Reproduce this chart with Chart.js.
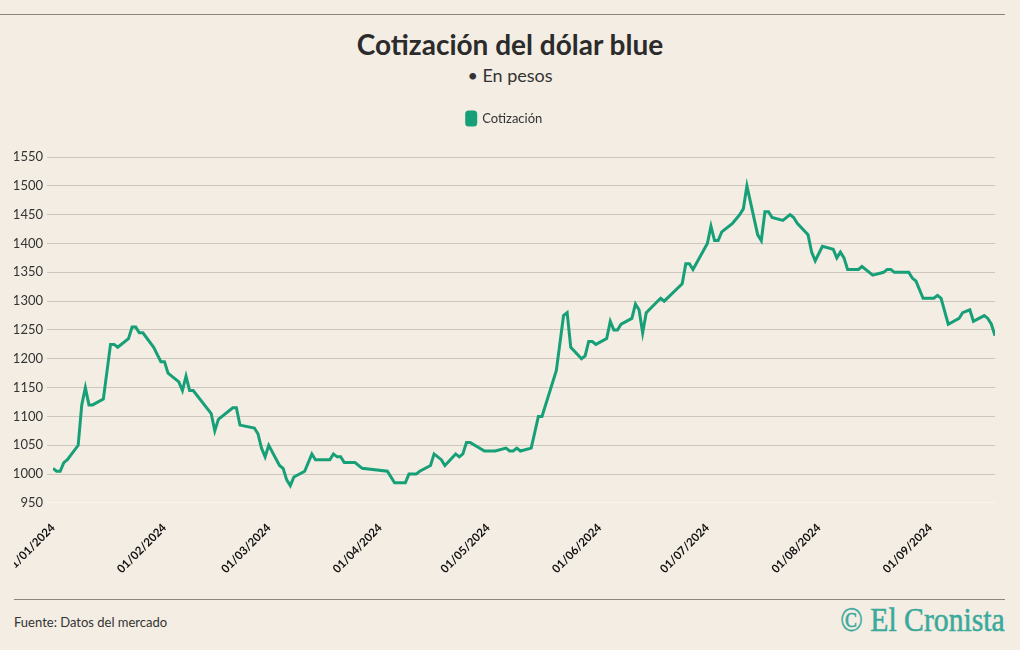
<!DOCTYPE html>
<html><head><meta charset="utf-8">
<script src="https://cdn.jsdelivr.net/npm/chart.js@4"></script>
<style>
html,body{margin:0;padding:0;background:#f3ede3;width:1020px;height:650px;overflow:hidden;font-family:Lato,"Noto Sans",sans-serif;}
#topline{position:absolute;left:0;top:14px;width:1005px;height:1px;background:#8c857e;}
#title{position:absolute;left:0;width:1020px;top:26px;text-align:center;font-weight:700;font-size:28px;color:#2b2b2b;line-height:36px;}
#sub{position:absolute;left:0;width:1020px;top:63px;text-align:center;font-size:18px;color:#333;line-height:24px;}
#wrap{position:absolute;left:14px;top:100px;width:991px;height:490px;}
#botline{position:absolute;left:14px;top:599px;width:991px;height:1px;background:#8c857e;}
#src{position:absolute;left:14px;top:613px;font-size:13px;color:#333;line-height:18px;}
#logo{position:absolute;right:15px;top:601px;font-family:"Liberation Serif",serif;font-size:33px;color:#3aa99b;line-height:38px;transform:scaleX(0.9);transform-origin:right center;white-space:nowrap;-webkit-text-stroke:0.5px #3aa99b;}
</style>
</head><body>
<div id="topline"></div>
<div id="title">Cotización del dólar blue</div>
<div id="sub">• En pesos</div>
<div id="wrap"><canvas id="c" width="991" height="490"></canvas></div>
<div id="botline"></div>
<div id="src">Fuente: Datos del mercado</div>
<div id="logo">© El Cronista</div>
<script>
const fechas = ["2024-01-01","2024-01-02","2024-01-03","2024-01-04","2024-01-05","2024-01-08","2024-01-09","2024-01-10","2024-01-11","2024-01-12","2024-01-15","2024-01-17","2024-01-18","2024-01-19","2024-01-22","2024-01-23","2024-01-24","2024-01-25","2024-01-26","2024-01-29","2024-01-31",
"2024-02-01","2024-02-02","2024-02-05","2024-02-06","2024-02-07","2024-02-08","2024-02-09","2024-02-14","2024-02-15","2024-02-16","2024-02-20","2024-02-21","2024-02-22","2024-02-26","2024-02-27","2024-02-28","2024-02-29",
"2024-03-01","2024-03-04","2024-03-05","2024-03-06","2024-03-07","2024-03-08","2024-03-11","2024-03-13","2024-03-14","2024-03-18","2024-03-19","2024-03-20","2024-03-21","2024-03-22","2024-03-25","2024-03-27",
"2024-04-03","2024-04-05","2024-04-08","2024-04-09","2024-04-11","2024-04-12","2024-04-15","2024-04-16","2024-04-18","2024-04-19","2024-04-22","2024-04-23","2024-04-24","2024-04-25","2024-04-26","2024-04-30",
"2024-05-03","2024-05-06","2024-05-07","2024-05-08","2024-05-09","2024-05-10","2024-05-13","2024-05-15","2024-05-16","2024-05-20","2024-05-22","2024-05-23","2024-05-24","2024-05-27","2024-05-28","2024-05-29","2024-05-30","2024-05-31",
"2024-06-03","2024-06-04","2024-06-05","2024-06-06","2024-06-07","2024-06-10","2024-06-11","2024-06-12","2024-06-13","2024-06-14","2024-06-18","2024-06-19","2024-06-24","2024-06-25","2024-06-26","2024-06-27",
"2024-07-01","2024-07-02","2024-07-03","2024-07-04","2024-07-05","2024-07-08","2024-07-10","2024-07-11","2024-07-12","2024-07-15","2024-07-16","2024-07-17","2024-07-18","2024-07-19","2024-07-22","2024-07-24","2024-07-25","2024-07-26","2024-07-29","2024-07-30","2024-07-31",
"2024-08-02","2024-08-05","2024-08-06","2024-08-07","2024-08-08","2024-08-09","2024-08-12","2024-08-13","2024-08-16","2024-08-19","2024-08-20","2024-08-21","2024-08-22","2024-08-26","2024-08-27","2024-08-28","2024-08-30",
"2024-09-02","2024-09-03","2024-09-04","2024-09-06","2024-09-09","2024-09-10","2024-09-12","2024-09-13","2024-09-16","2024-09-17","2024-09-18","2024-09-19"];
const cotizacion = [1010,1005,1005,1020,1025,1050,1120,1150,1120,1120,1130,1225,1225,1220,1235,1255,1255,1245,1245,1220,1195,
1195,1175,1160,1145,1170,1145,1145,1105,1075,1095,1115,1115,1085,1080,1070,1045,1030,
1050,1015,1010,990,980,995,1005,1035,1025,1025,1035,1030,1030,1020,1020,1010,
1005,985,985,1000,1000,1005,1015,1035,1025,1015,1035,1030,1035,1055,1055,1040,
1040,1045,1040,1040,1045,1040,1045,1100,1100,1180,1275,1280,1220,1200,1205,1230,1230,1225,
1235,1265,1250,1250,1260,1270,1295,1285,1245,1280,1305,1300,1330,1365,1365,1355,
1400,1430,1405,1405,1420,1435,1450,1460,1500,1415,1405,1455,1455,1445,1440,1450,1445,1435,1415,1385,1370,
1395,1390,1375,1385,1375,1355,1355,1360,1345,1350,1355,1355,1350,1350,1340,1335,1305,
1305,1310,1305,1260,1270,1280,1285,1265,1275,1270,1260,1240];
const fechasTicks = ["2024-01-01","2024-02-01","2024-03-01","2024-04-01","2024-05-01","2024-06-01","2024-07-01","2024-08-01","2024-09-01"];
const etiquetasTicks = ["01/01/2024","01/02/2024","01/03/2024","01/04/2024","01/05/2024","01/06/2024","01/07/2024","01/08/2024","01/09/2024"];
const valoresY = [950,1000,1050,1100,1150,1200,1250,1300,1350,1400,1450,1500,1550];

const base = Date.UTC(2024,0,1);
function dia(s){const p=s.split('-').map(Number);return (Date.UTC(p[0],p[1]-1,p[2])-base)/86400000;}
const puntos = fechas.map((f,i)=>({x:dia(f),y:cotizacion[i]}));
const tickDias = fechasTicks.map(dia);
const verde = '#17a078';

const legendMargin = {id:'legendMargin', beforeInit(chart){
  const fit = chart.legend.fit;
  chart.legend.fit = function(){ fit.bind(chart.legend)(); this.height += 22; };
}};

new Chart(document.getElementById('c'), {
  type:'line',
  data:{datasets:[{label:'Cotización',data:puntos,borderColor:verde,backgroundColor:verde,borderWidth:3,pointRadius:0,tension:0,fill:false}]},
  options:{
    responsive:false, animation:false,
    layout:{padding:{top:2,right:10,bottom:4,left:0}},
    plugins:{
      legend:{display:true,labels:{boxWidth:9,boxHeight:13,useBorderRadius:true,borderRadius:2,color:'#333',font:{family:'Lato',size:13}}},
      tooltip:{enabled:false}
    },
    scales:{
      x:{type:'linear',min:0,max:dia(fechas[fechas.length-1]),
        afterBuildTicks(s){s.ticks=tickDias.map(v=>({value:v}));},
        afterFit(s){s.paddingLeft=0;s.paddingRight=0;},
        grid:{display:false},border:{display:false},
        ticks:{autoSkip:false,minRotation:45,maxRotation:45,padding:10,color:'#111',font:{family:'Lato',size:11.5,weight:'bold'},
          callback(v){const i=tickDias.indexOf(v);return i>=0?etiquetasTicks[i]:'';}}
      },
      y:{min:950,max:1550,
        afterBuildTicks(s){s.ticks=valoresY.map(v=>({value:v}));},
        afterFit(s){s.width=39;},
        border:{display:false},
        grid:{color:(c)=>c.tick&&c.tick.value===950?'rgba(255,255,255,0.45)':'#cdc6bd',tickLength:6,lineWidth:1},
        ticks:{padding:4,color:'#333',font:{family:'Lato',size:13},callback:(v)=>String(v)}
      }
    }
  },
  plugins:[legendMargin]
});
</script>
</body></html>
